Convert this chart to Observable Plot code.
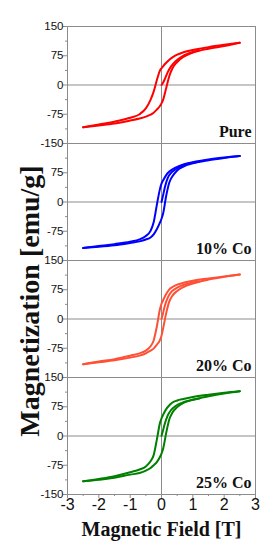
<!DOCTYPE html>
<html>
<head>
<meta charset="utf-8">
<script src="https://cdn.jsdelivr.net/npm/d3@7"></script>
<script src="https://cdn.jsdelivr.net/npm/@observablehq/plot@0.6"></script>
<style>
  html, body { margin: 0; padding: 0; background: #fff; }
  #chart { width: 278px; height: 550px; }
</style>
</head>
<body>
<div id="chart"></div>
<script>
// ---- data ----
const panels = ["Pure", "10% Co", "20% Co", "25% Co"];
const colors = ["#ff0000", "#0000ff", "#ff5035", "#008000"];

// magnetic field grid [T] for the hysteresis branches
const fieldH = [-2.5, -2, -1.5, -1, -0.7, -0.5, -0.35, -0.25, -0.15, -0.05, 0,
                0.05, 0.15, 0.25, 0.35, 0.5, 0.7, 1, 1.5, 2, 2.5];
// field grid for the virgin (initial) magnetisation curve
const initH = [0, 0.05, 0.1, 0.2, 0.3, 0.45, 0.65, 0.9, 1.2];

// Pure
const pureDesc = [-108.5, -101, -94, -84, -75, -60, -38, -17, 12, 37, 43,
                  48, 57, 65, 71, 78, 84, 90, 97, 103, 108.5];
const pureAsc  = [-108.5, -104, -99, -91, -86, -81, -76, -71, -63, -54, -47,
                  -38, -8, 23, 43, 59, 72, 83, 93, 100, 108.5];
const pureInit = [0, 6, 14, 33, 47, 61, 73, 82, 89];

// 10% Co
const co10Desc = [-118, -113, -108, -102, -96, -87, -74, -52, -8, 33, 47,
                  55, 69, 78, 84, 90, 96, 102, 109, 114, 118];
const co10Asc  = [-118, -115, -111, -105, -101, -96, -91, -83, -70, -53, -43,
                  -30, 16, 50, 66, 81, 91, 99, 107, 113, 118];
const co10Init = [0, 17, 35, 62, 74, 84, 93, 99, 103];

// 20% Co
const co20Desc = [-116, -109, -103, -94, -88, -81, -70, -55, -20, 25, 39,
                  48, 64, 76, 82, 88, 93, 98, 104, 109, 114];
const co20Asc  = [-116, -111, -106, -99, -94, -88, -81, -76, -66, -54, -43,
                  -25, 15, 45, 60, 72, 82, 91, 101, 108, 114];
const co20Init = [0, 15, 32, 55, 68, 78, 86, 92, 96];

// 25% Co
const co25Desc = [-116, -110, -103, -93, -86, -78, -65, -49, -10, 33, 45,
                  54, 69, 79, 86, 91, 95, 100, 106, 111, 115];
const co25Asc  = [-116, -112, -107, -99, -95, -89, -82, -75, -67, -54, -45,
                  -33, 8, 43, 60, 74, 85, 93, 102, 109, 115];
const co25Init = [0, 15, 30, 53, 66, 77, 85, 91, 96];

// axis ticks
const xTicks = [-3, -2, -1, 0, 1, 2, 3];
const xMinor = [-2.5, -1.5, -0.5, 0.5, 1.5, 2.5];
const yTicks = [-150, -75, 0, 75, 150];
const yMinor = [-112.5, -37.5, 37.5, 112.5];

const xTitle = "Magnetic Field [T]";
const yTitle = "Magnetization [emu/g]";

// ---- build tables ----
const series = [
  [pureDesc, pureAsc, pureInit],
  [co10Desc, co10Asc, co10Init],
  [co20Desc, co20Asc, co20Init],
  [co25Desc, co25Asc, co25Init]
];
const rows = [];
series.forEach(([desc, asc, init], i) => {
  const panel = panels[i];
  fieldH.forEach((H, k) => rows.push({panel, branch: "desc", H, M: desc[k]}));
  fieldH.forEach((H, k) => rows.push({panel, branch: "asc", H, M: asc[k]}));
  initH.forEach((H, k) => rows.push({panel, branch: "init", H, M: init[k]}));
});

// y tick labels per panel: the shared ±150 boundary shows one label only
const yLabelRows = [];
panels.forEach((panel, i) => {
  yTicks.forEach(v => {
    if (v === -150 && i > 0 && i < panels.length - 1) return; // next panel shows 150
    if (v === 150 && i === 1) return;                           // previous panel shows -150
    yLabelRows.push({panel, v});
  });
});

const SANS = "'Liberation Sans', Arial, sans-serif";
const SERIF = "'Liberation Serif', 'Times New Roman', serif";
const GRAY = "#8c8c8c";
const fmt = d => String(d);

const chart = Plot.plot({
  width: 278,
  height: 550,
  marginTop: 26,
  marginBottom: 56,
  marginLeft: 67,
  marginRight: 23,
  style: {background: "white", fontFamily: SANS, color: "black"},
  x: {domain: [-3, 3], axis: null},
  y: {domain: [-150, 150], axis: null},
  fy: {domain: panels, padding: 0, axis: null},
  color: {domain: panels, range: colors},
  marks: [
    Plot.ruleY([0], {stroke: GRAY, strokeWidth: 1}),
    Plot.ruleX([0], {stroke: GRAY, strokeWidth: 1}),
    Plot.frame({stroke: GRAY, strokeWidth: 1}),
    // y ticks (major + minor)
    Plot.axisY(yTicks, {tickSize: 4, tickFormat: () => "", stroke: GRAY, label: null}),
    Plot.axisY(yMinor, {tickSize: 2, tickFormat: () => "", stroke: GRAY, label: null}),
    Plot.text(yLabelRows, {
      y: "v", fy: "panel", text: d => fmt(d.v), frameAnchor: "left",
      textAnchor: "end", dx: -4, fontSize: 11.5, fontFamily: SANS, fill: "#111"
    }),
    // x ticks (bottom panel)
    Plot.axisX(xTicks, {tickSize: 4, tickPadding: 0, tickFormat: fmt, fontSize: 16,
                        fontFamily: SANS, stroke: GRAY, fill: "#111", label: null}),
    Plot.axisX(xMinor, {tickSize: 2, tickFormat: () => "", stroke: GRAY, label: null}),
    // hysteresis loops
    Plot.line(rows, {
      x: "H", y: "M", z: "branch", fy: "panel", stroke: "panel",
      curve: "monotone-x", strokeWidth: 2
    }),
    // panel labels
    Plot.text(panels, {
      fy: d => d, text: d => d, frameAnchor: "bottom-right", dx: -4, dy: -7,
      textAnchor: "end", lineAnchor: "bottom", fontSize: 16, fontWeight: "bold",
      fontFamily: SERIF, fill: "#111"
    }),
    // axis titles
    Plot.text([{panel: panels[3], t: xTitle}], {
      fy: "panel", text: "t", frameAnchor: "bottom", dy: 41, lineAnchor: "bottom",
      fontSize: 20, fontWeight: "bold", fontFamily: SERIF, fill: "#111"
    }),
    Plot.text([{panel: panels[2], t: yTitle}], {
      fy: "panel", text: "t", frameAnchor: "left", dx: -29, dy: -18, rotate: -90,
      lineAnchor: "bottom", textAnchor: "middle",
      fontSize: 28, fontWeight: "bold", fontFamily: SERIF, fill: "#111"
    })
  ]
});
document.getElementById("chart").appendChild(chart);
</script>
</body>
</html>
